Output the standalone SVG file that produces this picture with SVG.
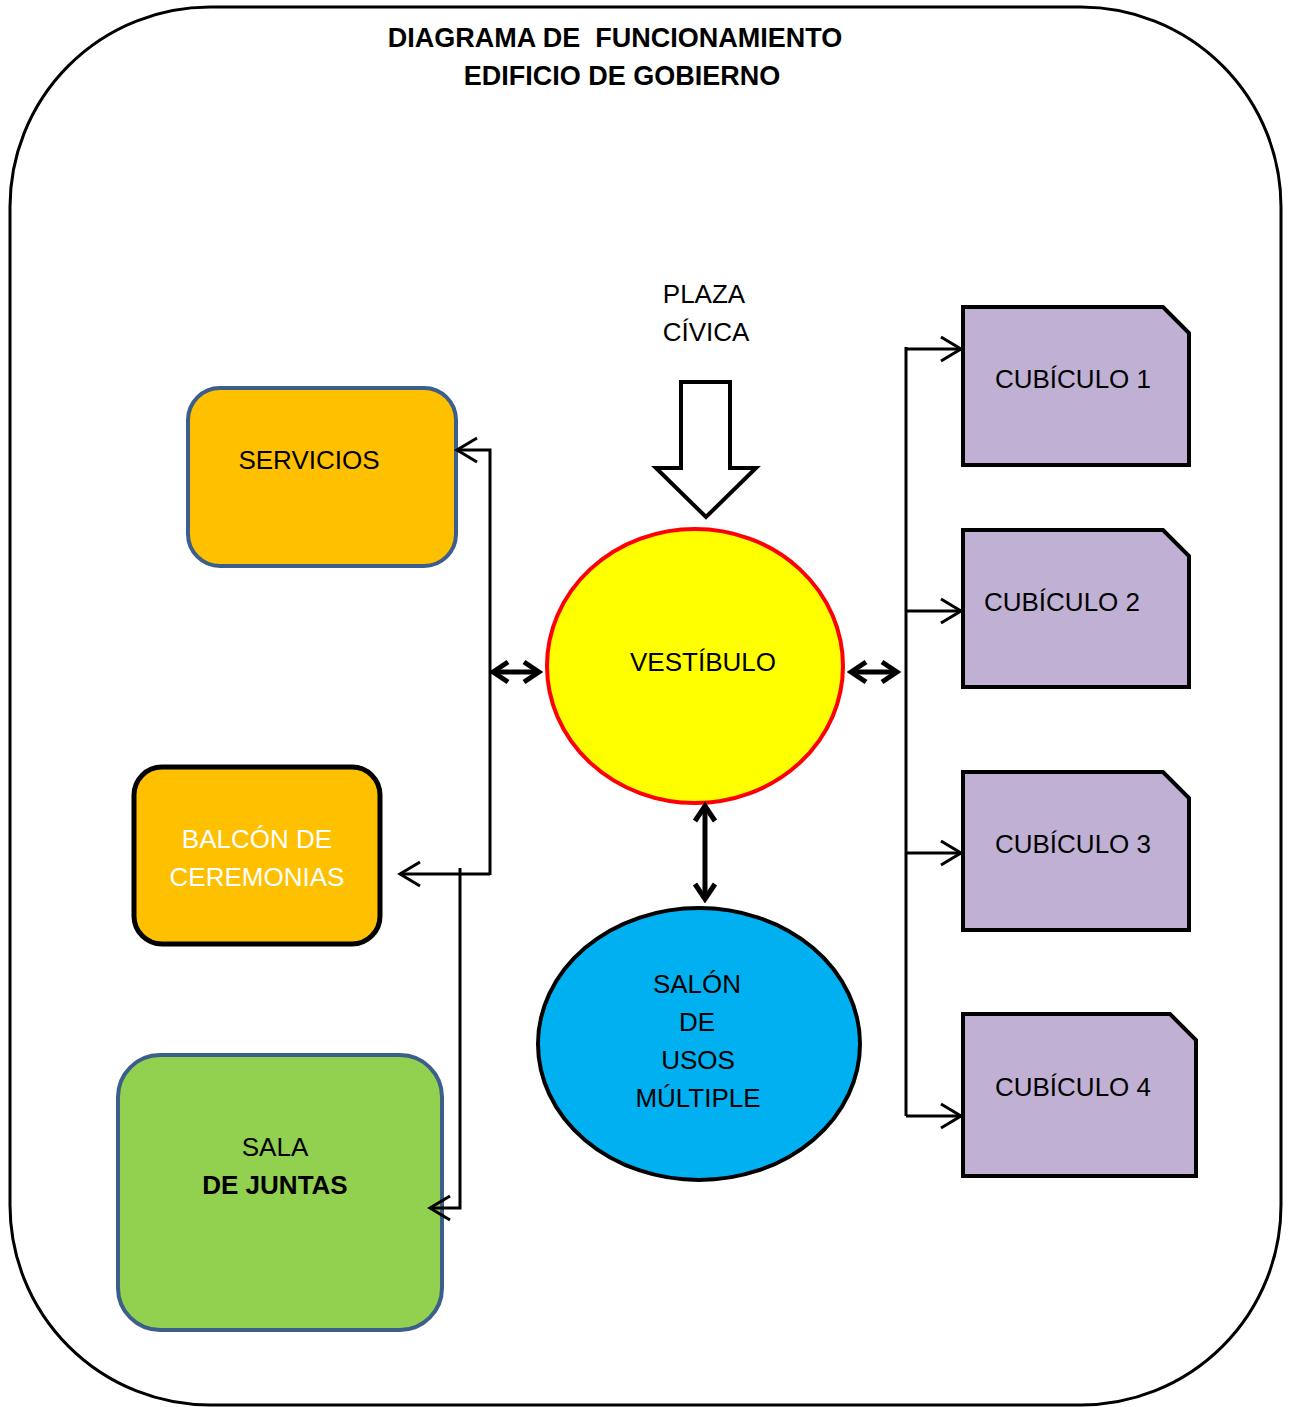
<svg xmlns="http://www.w3.org/2000/svg" width="1291" height="1407" viewBox="0 0 1291 1407">
<style>
.t{font-family:"Liberation Sans",Arial,sans-serif;font-size:26px;fill:#000;text-anchor:middle}
.ti{font-family:"Liberation Sans",Arial,sans-serif;font-size:27px;font-weight:bold;fill:#000;text-anchor:middle;white-space:pre}
.b{font-weight:bold}
.w{fill:#fff}
.cub{fill:#C0B1D4;stroke:#000;stroke-width:4;stroke-linejoin:miter}
.thin{fill:none;stroke:#000;stroke-width:3}
.thick{fill:none;stroke:#000;stroke-width:5}
</style>
<defs>
<marker id="open" markerUnits="userSpaceOnUse" markerWidth="26" markerHeight="30" viewBox="0 0 26 30" refX="23" refY="15" orient="auto-start-reverse">
<path d="M3,3 L23,15 L3,27" fill="none" stroke="#000" stroke-width="3"/>
</marker>
<marker id="bold" markerUnits="userSpaceOnUse" markerWidth="24" markerHeight="28" viewBox="0 0 24 28" refX="20" refY="14" orient="auto-start-reverse">
<path d="M5,4 L20,14 L5,24" fill="none" stroke="#000" stroke-width="5"/>
</marker>
</defs>
<rect x="10" y="7" width="1271" height="1398" rx="200" ry="200" fill="#fff" stroke="#000" stroke-width="3"/>
<g id="title">
<text class="ti" x="615" y="47" xml:space="preserve">DIAGRAMA DE  FUNCIONAMIENTO</text>
<text class="ti" x="622" y="85">EDIFICIO DE GOBIERNO</text>
</g>
<g id="plaza">
<text class="t" x="704" y="303">PLAZA</text>
<text class="t" x="706" y="341">CÍVICA</text>
</g>
<g id="servicios">
<rect x="188" y="388" width="268" height="178" rx="32" fill="#FFC000" stroke="#3B5E8D" stroke-width="4"/>
<text class="t" x="309" y="469">SERVICIOS</text>
</g>
<g id="balcon">
<rect x="134" y="767" width="246" height="177" rx="28" fill="#FFC000" stroke="#000" stroke-width="5"/>
<text class="t w" x="257" y="848">BALCÓN DE</text>
<text class="t w" x="257" y="886">CEREMONIAS</text>
</g>
<g id="sala">
<rect x="118" y="1055" width="324" height="275" rx="42" fill="#92D050" stroke="#3B5E8D" stroke-width="4"/>
<text class="t" x="275" y="1156">SALA</text>
<text class="t b" x="275" y="1194">DE JUNTAS</text>
</g>
<g id="vestibulo">
<ellipse cx="695" cy="666" rx="148" ry="137" fill="#FFFF00" stroke="#FF0000" stroke-width="4"/>
<text class="t" x="703" y="671">VESTÍBULO</text>
</g>
<g id="salon">
<ellipse cx="699" cy="1044" rx="161" ry="136" fill="#00B0F0" stroke="#000" stroke-width="4"/>
<text class="t" x="697" y="993">SALÓN</text>
<text class="t" x="697" y="1031">DE</text>
<text class="t" x="698" y="1069">USOS</text>
<text class="t" x="698" y="1107">MÚLTIPLE</text>
</g>
<g id="cubiculo1">
<path class="cub" d="M963,307 L1163,307 L1189,333 L1189,465 L963,465 Z"/>
<text class="t" x="1073" y="388">CUBÍCULO 1</text>
</g>
<g id="cubiculo2">
<path class="cub" d="M963,530 L1163,530 L1189,556 L1189,687 L963,687 Z"/>
<text class="t" x="1062" y="611">CUBÍCULO 2</text>
</g>
<g id="cubiculo3">
<path class="cub" d="M963,772 L1163,772 L1189,798 L1189,930 L963,930 Z"/>
<text class="t" x="1073" y="853">CUBÍCULO 3</text>
</g>
<g id="cubiculo4">
<path class="cub" d="M963,1014 L1170,1014 L1196,1040 L1196,1176 L963,1176 Z"/>
<text class="t" x="1073" y="1096">CUBÍCULO 4</text>
</g>
<g id="connectors">
<polyline class="thin" points="490,875 490,450 457,450" marker-end="url(#open)"/>
<polyline class="thin" points="490,874 400,874" marker-end="url(#open)"/>
<polyline class="thin" points="460,868 460,1208 430,1208" marker-end="url(#open)"/>
<line class="thin" x1="906" y1="347" x2="906" y2="1116"/>
<line class="thin" x1="906" y1="349" x2="961" y2="349" marker-end="url(#open)"/>
<line class="thin" x1="906" y1="611" x2="961" y2="611" marker-end="url(#open)"/>
<line class="thin" x1="906" y1="853" x2="961" y2="853" marker-end="url(#open)"/>
<line class="thin" x1="906" y1="1116" x2="961" y2="1116" marker-end="url(#open)"/>
<line class="thick" x1="493" y1="672" x2="539" y2="672" marker-start="url(#bold)" marker-end="url(#bold)"/>
<line class="thick" x1="851" y1="672" x2="897" y2="672" marker-start="url(#bold)" marker-end="url(#bold)"/>
<line class="thick" x1="705" y1="806" x2="705" y2="899" marker-start="url(#bold)" marker-end="url(#bold)"/>
<polygon points="681,382 730,382 730,468 756,468 706,517 656,468 681,468" fill="#fff" stroke="#000" stroke-width="4"/>
</g>
</svg>
